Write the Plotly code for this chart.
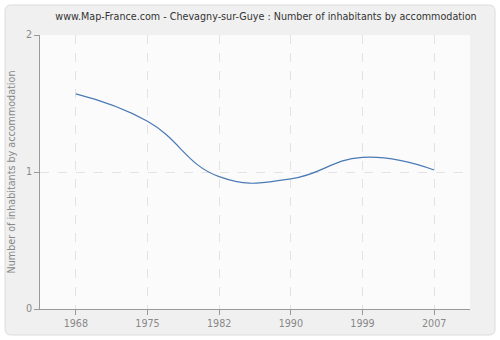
import plotly.graph_objects as go

years = ["1968", "1975", "1982", "1990", "1999", "2007"]
values = [1.57, 1.37, 0.966, 0.95, 1.107, 1.015]
y_ticks = [0, 1, 2]

W, H = 500, 340
L, R, T, B = 40, 30, 35, 31

fig = go.Figure()
fig.add_trace(go.Scatter(
    x=years, y=values, mode="lines",
    line=dict(color="#4a7ab5", width=1.2, shape="spline", smoothing=1.3),
    hoverinfo="skip", showlegend=False,
))

def px(x):
    return (x - L) / (W - L - R)
def py(y):
    return 1 - (y - T) / (H - T - B)

x0, y0, x1, y1 = px(5), py(5), px(495), py(335)
rx = 6 / (W - L - R)
ry = 6 / (H - T - B)
path = (f"M{x0+rx},{y0} L{x1-rx},{y0} Q{x1},{y0} {x1},{y0-ry} L{x1},{y1+ry} "
        f"Q{x1},{y1} {x1-rx},{y1} L{x0+rx},{y1} Q{x0},{y1} {x0},{y1+ry} "
        f"L{x0},{y0-ry} Q{x0},{y0} {x0+rx},{y0} Z")
fig.add_shape(type="path", path=path, xref="paper", yref="paper",
              fillcolor="#f0f0f0", line=dict(color="#dcdcdc", width=1), layer="below")
fig.add_shape(type="rect", xref="paper", yref="paper", x0=0, y0=0, x1=1, y1=1,
              fillcolor="#fbfbfb", line=dict(width=0), layer="below")

FS = 9.6
fig.update_layout(
    width=W, height=H,
    margin=dict(l=L, r=R, t=T, b=B, autoexpand=False),
    paper_bgcolor="white",
    plot_bgcolor="rgba(0,0,0,0)",
    font=dict(family="DejaVu Sans", size=FS, color="#888888"),
    title=dict(text="www.Map-France.com - Chevagny-sur-Guye : Number of inhabitants by accommodation",
               x=266 / W, xanchor="center", y=1 - 17 / H, yanchor="middle",
               font=dict(size=FS, color="#333333")),
    xaxis=dict(
        type="category", range=[-0.5, 5.5], automargin=False,
        showline=True, linecolor="#999999", linewidth=1,
        ticks="outside", ticklen=5, tickcolor="#999999",
        showgrid=True, gridcolor="#e3e3e3", griddash="dash", gridwidth=1,
        tickfont=dict(size=FS, color="#888888"), zeroline=False,
    ),
    yaxis=dict(
        range=[0, 2], tickvals=y_ticks, automargin=False,
        showline=True, linecolor="#999999", linewidth=1,
        ticks="outside", ticklen=5, tickcolor="#999999",
        showgrid=True, gridcolor="#e3e3e3", griddash="dash", gridwidth=1,
        tickfont=dict(size=FS, color="#888888"), zeroline=False,
        title=dict(text="Number of inhabitants by accommodation",
                   font=dict(size=FS, color="#888888"), standoff=8),
    ),
)

fig.write_html("out.html")
